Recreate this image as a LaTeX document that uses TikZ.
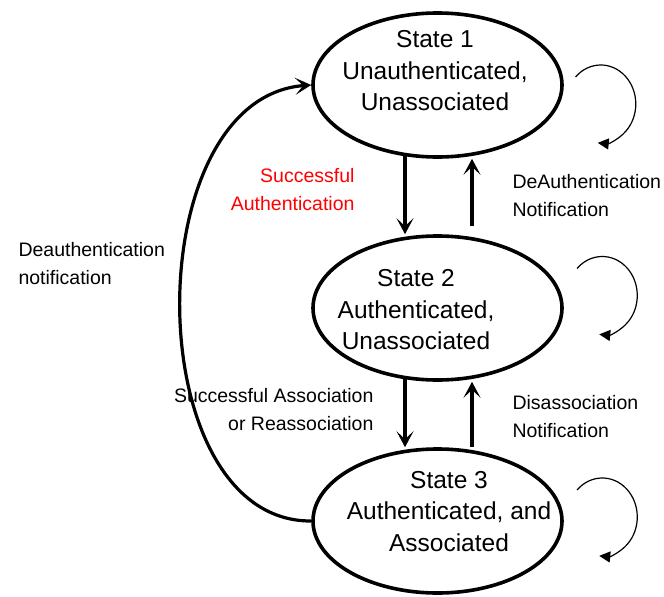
\documentclass[tikz,border=0pt]{standalone}
\usepackage{fontspec}
\setmainfont{Liberation Sans}
\usetikzlibrary{arrows.meta,shapes.geometric}

\begin{document}
\begin{tikzpicture}[x=1pt,y=-1pt,
  statebox/.style={draw, ellipse, line width=3.6pt, inner sep=0pt,
    minimum width=249pt, minimum height=144pt},
  statetext/.style={align=center, font=\fontsize{24.5}{31.5}\selectfont},
  edgelabel/.style={font=\fontsize{19.5}{28}\selectfont},
  trans/.style={line width=3.2pt, -{Stealth[length=16pt,width=17pt,inset=8pt]}},
  selfloop/.style={line width=1.2pt, -{Triangle[length=11pt,width=11pt]}}
]
\useasboundingbox (0,0) rectangle (664,597);

% states
\node[statebox] (e1) at (437.5,85) {};
\node[statebox] (e2) at (437.5,308) {};
\node[statebox] (e3) at (437.5,521) {};

\node[statetext] (t1) at (435,71) {State 1\\Unauthenticated,\\Unassociated};
\node[statetext] (t2) at (416,310) {State 2\\Authenticated,\\Unassociated};
\node[statetext] (t3) at (449,511.5) {State 3\\Authenticated, and\\Associated};

% transitions between neighbouring states
\draw[trans, shorten <=-3pt] ([xshift=-32.5pt]e1.south) -- ([xshift=-32.5pt]e2.north);
\draw[trans, shorten <=8pt] ([xshift=34.5pt]e2.north) -- ([xshift=34.5pt]e1.south);
\draw[trans, shorten <=-3pt] ([xshift=-32.5pt]e2.south) -- ([xshift=-32.5pt]e3.north);
\draw[trans] ([xshift=34.5pt]e3.north) -- ([xshift=34.5pt]e2.south);

% deauthentication from state 3 back to state 1
\draw[trans] (e3.west) .. controls (138,522) and (136,98) .. (e1.west);

% self transitions
\draw[selfloop] ([shift={(11.8,-8.1)}]e1.east) arc[start angle=224, end angle=455, x radius=35, y radius=39];
\draw[selfloop] ([shift={(13.3,-39.6)}]e2.east) arc[start angle=224, end angle=455, x radius=35, y radius=39];
\draw[selfloop] ([shift={(13.3,-31.1)}]e3.east) arc[start angle=224, end angle=455, x radius=35, y radius=39];

% labels
\node[edgelabel, align=right, anchor=east, text=red] (l1) at (358,190) {Successful\\Authentication};
\node[edgelabel, align=left, anchor=west] (l2) at (509,196) {DeAuthentication\\Notification};
\node[edgelabel, align=left, anchor=west] (l3) at (15,264) {Deauthentication\\notification};
\node[edgelabel, align=right, anchor=east] (l4) at (377,410) {Successful Association\\or Reassociation};
\node[edgelabel, align=left, anchor=west] (l5) at (509,417) {Disassociation\\Notification};
\end{tikzpicture}
\end{document}
